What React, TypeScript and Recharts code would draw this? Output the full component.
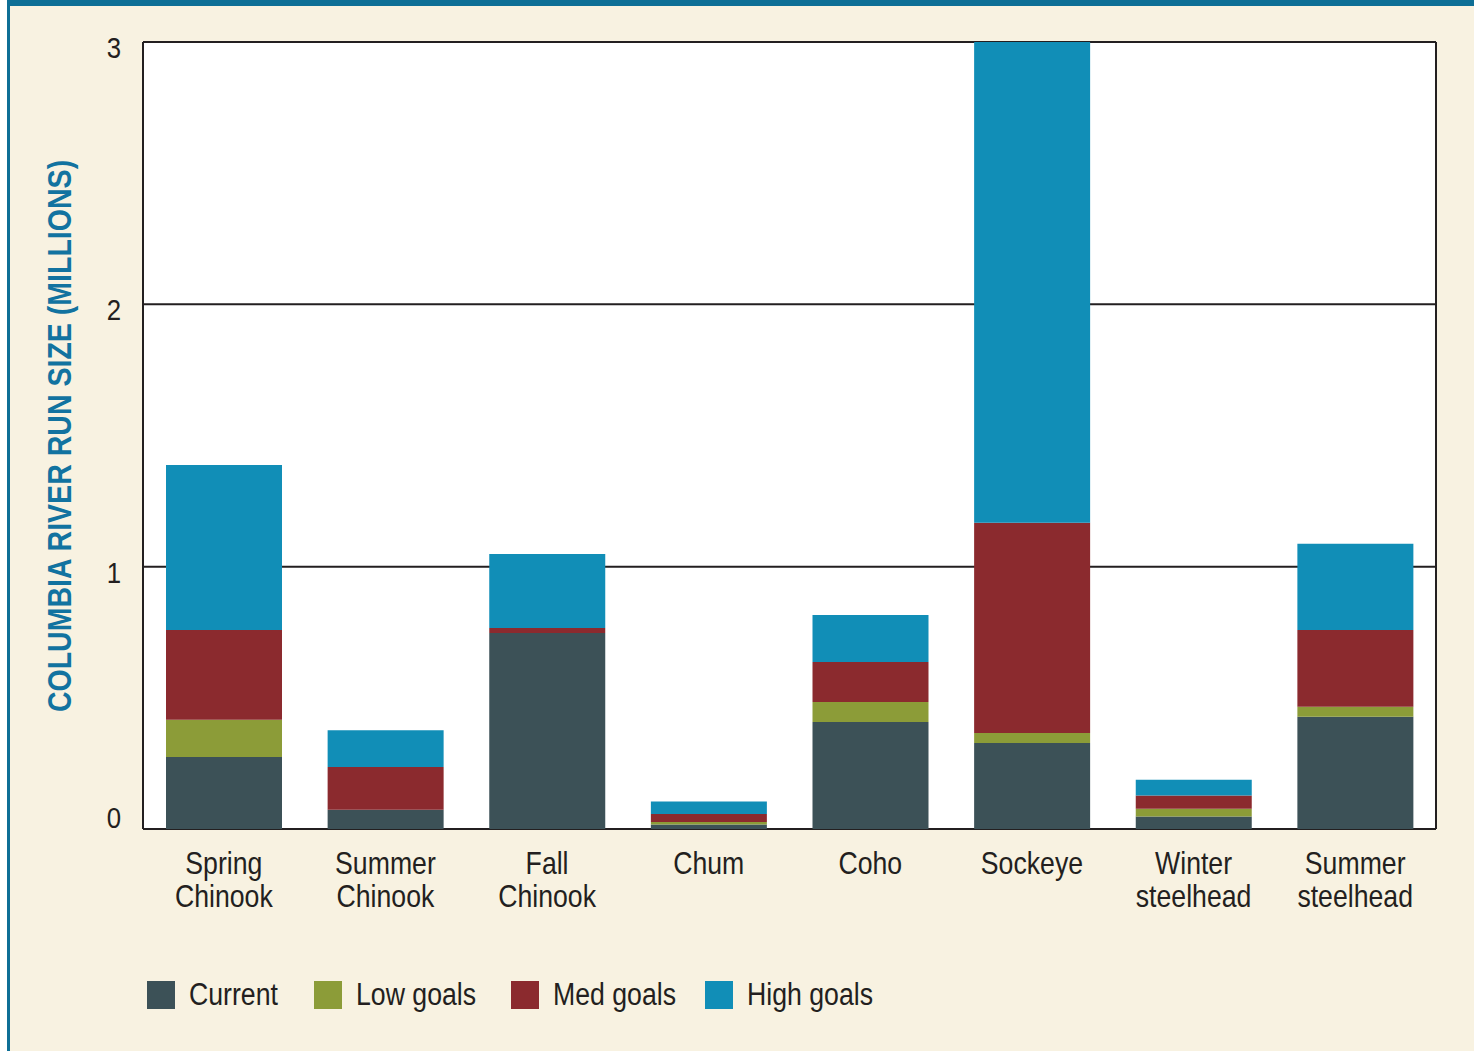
import React from "react";
import {
  BarChart,
  Bar,
  XAxis,
  YAxis,
  CartesianGrid,
} from "recharts";

document.body.style.margin = "0";

const categories = [
  ["Spring", "Chinook"],
  ["Summer", "Chinook"],
  ["Fall", "Chinook"],
  ["Chum"],
  ["Coho"],
  ["Sockeye"],
  ["Winter", "steelhead"],
  ["Summer", "steelhead"],
];
const current = [0.274, 0.073, 0.747, 0.017, 0.408, 0.328, 0.048, 0.428];
const lowGoals = [0.142, 0.0, 0.0, 0.01, 0.076, 0.038, 0.029, 0.038];
const medGoals = [0.343, 0.163, 0.019, 0.03, 0.153, 0.801, 0.051, 0.293];
const highGoals = [0.629, 0.14, 0.282, 0.048, 0.179, 1.833, 0.06, 0.328];
const yTicks = [0, 1, 2, 3];

// condensed look: Liberation Sans squeezed horizontally
const FONT = '"Liberation Sans", Arial, sans-serif';
const SQUEEZE = 0.86;

const series = [
  { key: "current", name: "Current", color: "#3c5157" },
  { key: "low", name: "Low goals", color: "#8c9c38" },
  { key: "med", name: "Med goals", color: "#8b2a2e" },
  { key: "high", name: "High goals", color: "#118eb7" },
];
const legendLeft = [147, 314, 511, 705];

const data = categories.map((c, i) => ({
  name: c.join(" "),
  current: current[i],
  low: lowGoals[i],
  med: medGoals[i],
  high: highGoals[i],
}));

const XTick = (props: any) => {
  const { x, y, payload } = props;
  const lines = categories[payload.index] || [payload.value];
  return (
    <g transform={`translate(${x},${y}) scale(${SQUEEZE},1)`}>
      {lines.map((l: string, i: number) => (
        <text
          key={i}
          x={0}
          y={37 + i * 33}
          textAnchor="middle"
          fontSize={31}
          fontFamily={FONT}
          fill="#231f20"
        >
          {l}
        </text>
      ))}
    </g>
  );
};

const YTick = (props: any) => {
  const { x, y, payload } = props;
  const dy = payload.value === 0 ? -1 : 16;
  return (
    <g transform={`translate(${x},${y + dy}) scale(${SQUEEZE},1)`}>
      <text
        x={0}
        y={0}
        textAnchor="end"
        fontSize={30}
        fontFamily={FONT}
        fill="#231f20"
      >
        {payload.value}
      </text>
    </g>
  );
};

export default function App() {
  return (
    <div
      style={{
        position: "relative",
        width: 1474,
        height: 1051,
        background: "#ffffff",
        overflow: "hidden",
      }}
    >
      <div
        style={{
          position: "absolute",
          left: 7,
          top: 0,
          right: 0,
          bottom: 0,
          background: "#f8f2e1",
          borderTop: "6px solid #0e6f96",
          borderLeft: "3px solid #0e6f96",
        }}
      />
      <div style={{ position: "absolute", left: 0, top: 0 }}>
        <BarChart
          width={1474}
          height={1051}
          data={data}
          margin={{ top: 42, right: 38, bottom: 132, left: 0 }}
          barSize={116}
        >
          <CartesianGrid
            fill="#ffffff"
            stroke="#231f20"
            strokeWidth={2}
            verticalCoordinatesGenerator={(p: any) => [
              p.offset.left,
              p.offset.left + p.offset.width,
            ]}
          />
          <XAxis
            dataKey="name"
            height={90}
            axisLine={false}
            tickLine={false}
            interval={0}
            tick={<XTick />}
          />
          <YAxis
            width={143}
            domain={[0, 3]}
            ticks={yTicks}
            allowDataOverflow
            axisLine={false}
            tickLine={false}
            tickMargin={16}
            tick={<YTick />}
            label={{
              content: () => (
                <g transform="translate(60,436) rotate(-90) scale(0.84,1)">
                  <text
                    x={0}
                    y={0}
                    textAnchor="middle"
                    dominantBaseline="central"
                    fontSize={34}
                    fontWeight="bold"
                    fontFamily={FONT}
                    fill="#1273a0"
                  >
                    COLUMBIA RIVER RUN SIZE (MILLIONS)
                  </text>
                </g>
              ),
            }}
          />
          {series.map((s) => (
            <Bar
              key={s.key}
              dataKey={s.key}
              name={s.name}
              stackId="a"
              fill={s.color}
              isAnimationActive={false}
            />
          ))}
        </BarChart>
      </div>
      {series.map((s, i) => (
        <div
          key={s.key}
          style={{
            position: "absolute",
            left: legendLeft[i],
            top: 981,
            height: 28,
            display: "flex",
            alignItems: "center",
            fontFamily: FONT,
            fontSize: 31,
            color: "#231f20",
            whiteSpace: "nowrap",
          }}
        >
          <div
            style={{
              width: 28,
              height: 28,
              background: s.color,
              marginRight: 14,
              flex: "none",
            }}
          />
          <span
            style={{
              display: "inline-block",
              transform: `scaleX(${SQUEEZE})`,
              transformOrigin: "left center",
            }}
          >
            {s.name}
          </span>
        </div>
      ))}
    </div>
  );
}
